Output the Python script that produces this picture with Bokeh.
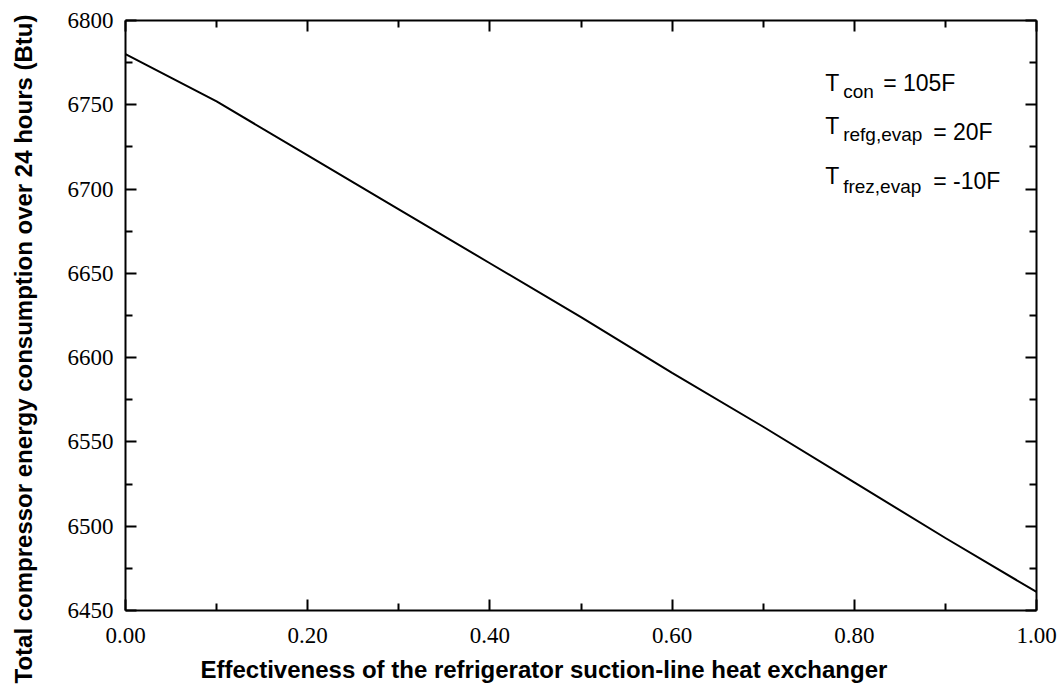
import math
from bokeh.plotting import figure
from bokeh.models import (Range1d, FixedTicker, LinearAxis, Label,
                          NumeralTickFormatter, CustomJSTickFormatter)
from bokeh.embed import file_html
from bokeh.resources import INLINE

# ---- data ----
effectiveness = [0.0, 0.1, 0.2, 0.3, 0.4, 0.5, 0.6, 0.7, 0.8, 0.9, 1.0]
energy_btu = [6780, 6752, 6720, 6688, 6656, 6624, 6591, 6559, 6526, 6493, 6461]

x_major = [0.0, 0.2, 0.4, 0.6, 0.8, 1.0]
x_minor = [0.1, 0.3, 0.5, 0.7, 0.9]
y_major = [6450, 6500, 6550, 6600, 6650, 6700, 6750, 6800]
y_minor = [6475, 6525, 6575, 6625, 6675, 6725, 6775]

x_title_text = "Effectiveness of the refrigerator suction-line heat exchanger"
y_title_text = "Total compressor energy consumption over 24 hours (Btu)"

ann_main = ["T", "T", "T"]
ann_sub = ["con", "refg,evap", "frez,evap"]
ann_rest = ["= 105F", "= 20F", "= -10F"]
ann_y = [6757.3, 6732.0, 6702.3]

SANS = "Liberation Sans"
SERIF = "Liberation Serif"

X0, X1 = x_major[0], x_major[-1]
Y0, Y1 = y_major[0], y_major[-1]

# ---- layout (pixels) : plotting box inside the 1058 x 689 canvas ----
W, H = 1058, 689
BOX_L, BOX_R, BOX_T, BOX_B = 125, 1036, 20, 610
kx = (X1 - X0) / (BOX_R - BOX_L)
ky = (Y1 - Y0) / (BOX_B - BOX_T)
x_range = Range1d(X0 - BOX_L * kx, X1 + (W - BOX_R) * kx)
y_range = Range1d(Y0 - (H - BOX_B) * ky, Y1 + BOX_T * ky)

p = figure(width=W, height=H, output_backend="svg", toolbar_location=None,
           x_range=x_range, y_range=y_range,
           min_border=0, x_axis_type=None, y_axis_type=None)
p.grid.visible = False
p.outline_line_color = None
p.background_fill_color = "white"
p.border_fill_color = "white"

def style_axis(ax, major, minor, fmt, show_labels):
    ax.ticker = FixedTicker(ticks=major, minor_ticks=minor)
    ax.axis_line_color = "black"
    ax.axis_line_width = 2
    ax.major_tick_in = 11
    ax.major_tick_out = 0
    ax.minor_tick_in = 7
    ax.minor_tick_out = 0
    ax.major_tick_line_width = 2
    ax.minor_tick_line_width = 2
    ax.major_tick_line_color = "black"
    ax.minor_tick_line_color = "black"
    if show_labels:
        ax.formatter = NumeralTickFormatter(format=fmt)
        ax.major_label_text_font = SERIF
        ax.major_label_text_font_size = "23px"
        ax.major_label_text_color = "black"
    else:
        ax.formatter = CustomJSTickFormatter(code="return ''")
        ax.major_label_text_font_size = "0px"
        ax.major_label_standoff = 0

xb = LinearAxis(fixed_location=Y0, bounds=(X0, X1))
style_axis(xb, x_major, x_minor, "0.00", True)
xb.major_label_standoff = 17
p.add_layout(xb, "below")

yl = LinearAxis(fixed_location=X0, bounds=(Y0, Y1))
style_axis(yl, y_major, y_minor, "0", True)
yl.major_label_standoff = 12
p.add_layout(yl, "left")

xt = LinearAxis(fixed_location=Y1, bounds=(X0, X1))
style_axis(xt, x_major, x_minor, "0.00", False)
p.add_layout(xt, "above")

yr = LinearAxis(fixed_location=X1, bounds=(Y0, Y1))
style_axis(yr, y_major, y_minor, "0", False)
p.add_layout(yr, "right")

p.line(effectiveness, energy_btu, line_color="black", line_width=2)

# axis titles, anchored at the box's lower-left corner
p.add_layout(Label(x=X0, y=Y0, x_offset=75, y_offset=-59, text=x_title_text,
                   text_font=SANS, text_font_size="24px", text_font_style="bold",
                   text_align="left", text_baseline="alphabetic", text_color="black"))
p.add_layout(Label(x=X0, y=Y0, x_offset=-102, y_offset=-73, text=y_title_text,
                   angle=math.pi / 2, text_font=SANS, text_font_size="24px",
                   text_font_style="bold", text_align="left",
                   text_baseline="alphabetic", text_color="black"))

ann_x = 0.768
SHIFT = 9
sub_dx = 18
sub_dy = [-8, -8, -10]
rest_dy = [0, -6, -5]
rest_dx = [58, 108, 108]
for i in range(3):
    p.add_layout(Label(x=ann_x, y=ann_y[i], y_offset=SHIFT, text=ann_main[i],
                       text_font=SANS, text_font_size="23px",
                       text_baseline="alphabetic", text_color="black"))
    p.add_layout(Label(x=ann_x, y=ann_y[i], x_offset=sub_dx, y_offset=SHIFT + sub_dy[i],
                       text=ann_sub[i], text_font=SANS, text_font_size="19px",
                       text_baseline="alphabetic", text_color="black"))
    p.add_layout(Label(x=ann_x, y=ann_y[i], x_offset=rest_dx[i],
                       y_offset=SHIFT + rest_dy[i], text=ann_rest[i],
                       text_font=SANS, text_font_size="23px",
                       text_baseline="alphabetic", text_color="black"))

open("out.html", "w").write(file_html(p, INLINE))
